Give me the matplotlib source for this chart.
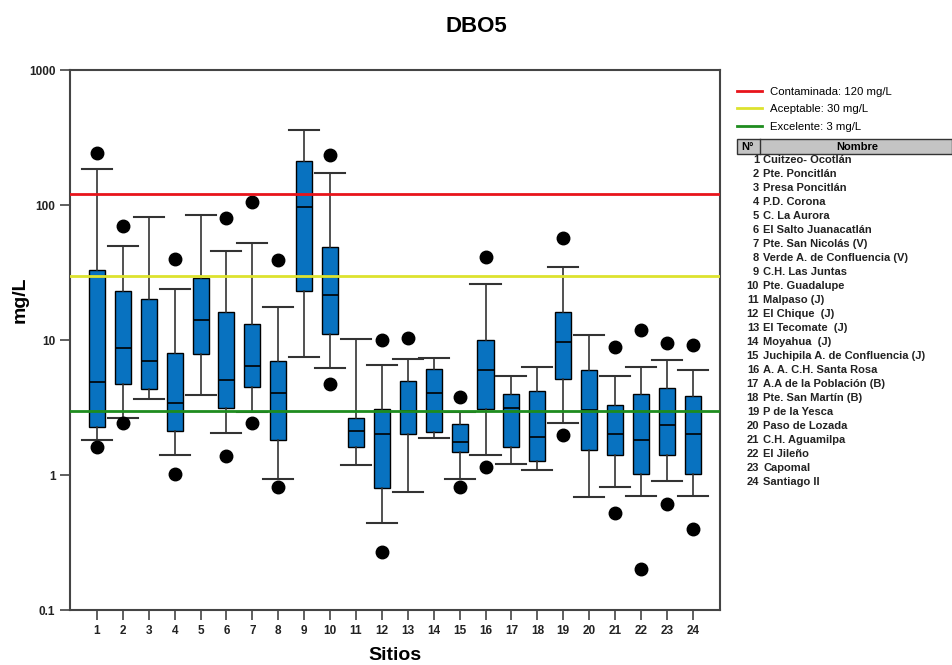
import matplotlib
matplotlib.use("Agg")
import matplotlib.pyplot as plt
from matplotlib.lines import Line2D
from matplotlib.patches import Rectangle

plt.rcParams['font.family'] = ['Liberation Sans', 'DejaVu Sans']

# Box statistics (mg/L)
sitios = list(range(1, 25))
whishi = [185, 50, 81, 24, 84, 46, 52, 17.6, 359, 173, 10.2, 6.5,
          7.2, 7.4, 2.93, 26, 5.4, 6.3, 34.7, 10.9, 5.4, 6.3, 7.1, 6.0]
q3 = [33, 23, 20, 8.0, 28.8, 16.1, 13.1, 7.0, 212, 48.9, 2.64, 3.08,
      4.97, 6.1, 2.39, 10.0, 3.98, 4.19, 16.1, 6.0, 3.3, 3.98, 4.41, 3.88]
med = [4.9, 8.7, 7.0, 3.42, 14.1, 5.05, 6.4, 4.05, 96.7, 21.5, 2.12, 2.01,
       3.0, 4.05, 1.75, 6.0, 3.14, 1.91, 9.67, 3.03, 2.01, 1.82, 2.35, 2.01]
q1 = [2.27, 4.72, 4.34, 2.12, 7.9, 3.14, 4.49, 1.82, 23.0, 11.1, 1.61, 0.80,
      2.01, 2.08, 1.48, 3.08, 1.61, 1.27, 5.14, 1.53, 1.41, 1.02, 1.41, 1.02]
whislo = [1.82, 2.64, 3.66, 1.41, 3.91, 2.05, 2.93, 0.93, 7.48, 6.2, 1.19, 0.44,
          0.75, 1.88, 0.93, 1.41, 1.21, 1.09, 2.43, 0.69, 0.81, 0.70, 0.90, 0.70]
outliers = [[243, 1.61], [70, 2.43], [], [39.8, 1.02], [], [80, 1.38],
            [105, 2.43], [39.2, 0.81], [], [234, 4.72], [], [10.0, 0.27],
            [10.3], [], [3.78, 0.81], [41.2, 1.15], [], [], [57, 1.98], [],
            [8.9, 0.52], [11.9, 0.20], [9.5, 0.61], [9.2, 0.40]]

nombres = ["Cuitzeo- Ocotlán", "Pte. Poncitlán", "Presa Poncitlán", "P.D. Corona",
           "C. La Aurora", "El Salto Juanacatlán", "Pte. San Nicolás (V)",
           "Verde A. de Confluencia (V)", "C.H. Las Juntas", "Pte. Guadalupe",
           "Malpaso (J)", "El Chique  (J)", "El Tecomate  (J)", "Moyahua  (J)",
           "Juchipila A. de Confluencia (J)", "A. A. C.H. Santa Rosa",
           "A.A de la Población (B)", "Pte. San Martín (B)", "P de la Yesca",
           "Paso de Lozada", "C.H. Aguamilpa", "El Jileño", "Capomal", "Santiago II"]

limites = [120, 30, 3]
limite_labels = ["Contaminada: 120 mg/L", "Aceptable: 30 mg/L", "Excelente: 3 mg/L"]
limite_colors = ["#E8141B", "#DDE22E", "#1E8C1E"]

stats = []
for i in range(len(sitios)):
    stats.append(dict(whislo=whislo[i], q1=q1[i], med=med[i], q3=q3[i],
                      whishi=whishi[i], fliers=outliers[i]))

fig = plt.figure(figsize=(9.52, 6.65), dpi=100)
ax = fig.add_axes([0.0735, 0.0827, 0.6825, 0.812])

ax.bxp(stats, positions=sitios, widths=0.62, capwidths=1.16, patch_artist=True,
       boxprops=dict(facecolor="#0872C0", edgecolor="black", linewidth=1.0),
       medianprops=dict(color="black", linewidth=1.2),
       whiskerprops=dict(color="#333333", linewidth=1.2),
       capprops=dict(color="#333333", linewidth=1.5),
       flierprops=dict(marker="o", markerfacecolor="black", markeredgecolor="black",
                       markersize=9))

handles = []
for val, lab, col in zip(limites, limite_labels, limite_colors):
    h = ax.axhline(val, color=col, linewidth=2, zorder=5, label=lab)
    handles.append(h)

ax.set_yscale("log")
ax.set_ylim(0.1, 1000)
ax.set_xlim(-0.04, 25.04)
ax.set_yticks([0.1, 1, 10, 100, 1000])
ax.set_yticklabels(["0.1", "1", "10", "100", "1000"])
ax.yaxis.set_minor_locator(matplotlib.ticker.NullLocator())
ax.set_xticks(sitios)
ax.set_xticklabels([str(s) for s in sitios])
ax.tick_params(axis="both", direction="out", length=7, width=1.2, color="#444444",
               labelsize=8.5, labelcolor="#222222")
ax.tick_params(axis="x", pad=4)
for lab in ax.get_xticklabels() + ax.get_yticklabels():
    lab.set_fontweight("bold")
for sp in ax.spines.values():
    sp.set_color("#444444")
    sp.set_linewidth(1.5)

fig.text(395 / 952, 1 - 655 / 665, "Sitios", ha="center", va="center",
         fontsize=14, fontweight="bold")
fig.text(20 / 952, 1 - 300 / 665, "mg/L", rotation=90, ha="center", va="center",
         fontsize=14, fontweight="bold")
fig.text(0.5, 1 - 26 / 665, "DBO5", ha="center", va="center", fontsize=16,
         fontweight="bold")

ax.legend(handles=handles, loc="upper left", bbox_to_anchor=(0.768, 0.878),
          bbox_transform=fig.transFigure, frameon=False, fontsize=8.2,
          handlelength=2.2, handletextpad=0.7, labelspacing=0.65, borderpad=0)

# table of site names
def fx(px):
    return px / 952.0

def fy(py):
    return 1 - py / 665.0

hdr_top, hdr_bot = 139, 154
fig.add_artist(Rectangle((fx(737), fy(hdr_bot)), fx(952) - fx(737), fy(hdr_top) - fy(hdr_bot),
                         transform=fig.transFigure, facecolor="#C4C4C4",
                         edgecolor="#333333", linewidth=1.0))
fig.add_artist(Line2D([fx(760), fx(760)], [fy(hdr_top), fy(hdr_bot)],
                      transform=fig.transFigure, color="#333333", linewidth=1.0))
yh = fy((hdr_top + hdr_bot) / 2)
fig.text(fx(748), yh, "N°", ha="center", va="center", fontsize=8, fontweight="bold")
fig.text(fx(857), yh, "Nombre", ha="center", va="center", fontsize=8, fontweight="bold")

for i, (s, n) in enumerate(zip(sitios, nombres)):
    yy = fy(160 + i * 14.0)
    fig.text(fx(759), yy, str(s), ha="right", va="center", fontsize=8,
             fontweight="bold", color="#222222")
    fig.text(fx(763), yy, n, ha="left", va="center", fontsize=8,
             fontweight="bold", color="#222222")

fig.savefig("out.png", dpi=100)
